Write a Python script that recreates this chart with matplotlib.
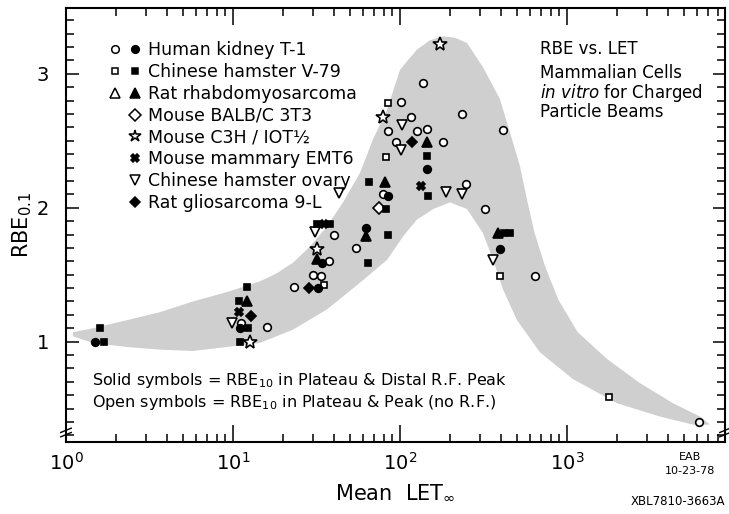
import numpy as np
import matplotlib.pyplot as plt
from matplotlib.lines import Line2D
from matplotlib.legend_handler import HandlerTuple
from matplotlib.ticker import MultipleLocator, LogLocator, NullFormatter

plt.rcParams['font.family'] = ['DejaVu Sans']
plt.rcParams['mathtext.fontset'] = 'dejavusans'

# Shaded envelope: upper edge (left to right) and lower edge (right to left)
band_upper_x = [1.10, 1.45, 2.32, 3.65, 5.76, 9.2, 14.5, 18.3, 22.9, 28.9, 36.5, 45.6, 57.6,
                68.9, 83.6, 100, 126, 151, 181, 213, 252, 314, 397, 456, 523, 576, 640,
                740, 890, 1160, 1737, 2735, 4313, 6256, 7183]
band_upper_y = [1.07, 1.10, 1.16, 1.22, 1.30, 1.37, 1.45, 1.51, 1.59, 1.71, 1.86, 2.04, 2.26,
                2.51, 2.73, 3.03, 3.18, 3.25, 3.28, 3.27, 3.23, 3.05, 2.81, 2.56, 2.31, 2.06, 1.81,
                1.56, 1.31, 1.07, 0.87, 0.69, 0.54, 0.44, 0.38]
band_lower_x = [5680, 3604, 1991, 1086, 689, 502, 414, 361, 314, 252, 199, 158, 126, 105,
                83.6, 57.6, 36.5, 22.9, 14.5, 9.2, 5.76, 3.65, 2.32, 1.45, 1.10]
band_lower_y = [0.38, 0.44, 0.54, 0.72, 0.92, 1.16, 1.39, 1.61, 1.81, 1.99, 2.04, 1.99, 1.91, 1.79,
                1.61, 1.44, 1.24, 1.09, 0.99, 0.96, 0.93, 0.94, 0.96, 0.99, 1.04]

# Human kidney T-1
kidney_open_x = [11.1, 16, 23.2, 30, 33.6, 37.6, 40, 54.5, 79, 137, 101, 116, 85, 126, 145,
                 235, 414, 95, 181, 248, 323, 643, 6170]
kidney_open_y = [1.14, 1.11, 1.41, 1.50, 1.49, 1.60, 1.80, 1.70, 2.10, 2.93, 2.79, 2.68, 2.57, 2.57, 2.59,
                 2.70, 2.58, 2.49, 2.49, 2.18, 1.99, 1.49, 0.40]
kidney_solid_x = [1.49, 11.0, 34, 32.2, 85, 145, 397, 63]
kidney_solid_y = [1.00, 1.10, 1.59, 1.40, 2.09, 2.29, 1.69, 1.85]

# Chinese hamster V-79
v79_open_x = [35, 85, 82, 397, 1783]
v79_open_y = [1.42, 2.78, 2.38, 1.49, 0.59]
v79_solid_x = [1.69, 1.6, 12.1, 10.9, 11.0, 12.3, 32, 38, 65, 83, 85, 64, 145, 147, 420, 456]
v79_solid_y = [1.00, 1.10, 1.41, 1.30, 1.00, 1.10, 1.88, 1.88, 2.19, 1.99, 1.80, 1.59, 2.39, 2.09, 1.81, 1.81]

# Rat rhabdomyosarcoma
rhabdo_solid_x = [12.1, 31.7, 81, 145, 63, 386]
rhabdo_solid_y = [1.30, 1.62, 2.19, 2.49, 1.79, 1.81]

# Mouse BALB/C 3T3
balb_open_x = [75]
balb_open_y = [2.00]

# Mouse C3H/10T1/2
c3h_open_x = [12.6, 32, 79, 174]
c3h_open_y = [1.00, 1.69, 2.68, 3.22]

# Mouse mammary EMT6
emt6_solid_x = [10.9, 35, 134]
emt6_solid_y = [1.22, 1.88, 2.16]

# Chinese hamster ovary
cho_open_x = [9.9, 43, 31, 103, 101, 189, 235, 361]
cho_open_y = [1.14, 2.11, 1.82, 2.62, 2.43, 2.12, 2.10, 1.61]

# Rat gliosarcoma 9-L
glio_solid_x = [12.8, 28.5, 118]
glio_solid_y = [1.19, 1.40, 2.49]

fig = plt.figure(figsize=(7.29, 5.14), dpi=100)
ax = fig.add_axes([0.0905, 0.140, 0.904, 0.844])

ax.fill(band_upper_x + band_lower_x, band_upper_y + band_lower_y,
        color='#cfcfcf', lw=0, zorder=1)

def pts(x, y, marker, filled, ms=5.5):
    fc = 'black' if filled else 'white'
    ax.plot(x, y, linestyle='none', marker=marker, ms=ms, mfc=fc, mec='black',
            mew=1.2, zorder=3)

pts(kidney_open_x, kidney_open_y, 'o', False)
pts(v79_open_x, v79_open_y, 's', False, 5)
pts(balb_open_x, balb_open_y, 'D', False, 6)
pts(c3h_open_x, c3h_open_y, '*', False, 10)
pts(cho_open_x, cho_open_y, 'v', False, 7)
pts(kidney_solid_x, kidney_solid_y, 'o', True)
pts(v79_solid_x, v79_solid_y, 's', True, 5)
pts(rhabdo_solid_x, rhabdo_solid_y, '^', True, 6.5)
pts(emt6_solid_x, emt6_solid_y, 'X', True, 6)
pts(glio_solid_x, glio_solid_y, 'D', True, 5)

ax.set_xscale('log')
ax.set_xlim(1, 8830)
ax.set_ylim(0.25, 3.49)
ax.xaxis.set_minor_locator(LogLocator(base=10, subs=np.arange(2, 10), numticks=20))
ax.xaxis.set_minor_formatter(NullFormatter())
ax.set_xticks([1, 10, 100, 1000])
ax.set_xticklabels(['$10^0$', '$10^1$', '$10^2$', '$10^3$'])
ax.yaxis.set_major_locator(MultipleLocator(1))
ax.yaxis.set_minor_locator(MultipleLocator(0.1))
ax.tick_params(which='both', direction='in', top=True, right=True, width=1.1)
ax.tick_params(which='major', length=12, labelsize=14, pad=7)
ax.tick_params(which='minor', length=6)
ax.tick_params(axis='y', which='major', length=9, pad=12)
for s in ax.spines.values():
    s.set_linewidth(1.5)

ax.set_xlabel(r'Mean  LET$_{\infty}$', fontsize=15, labelpad=6)
ax.set_ylabel(r'RBE$_{0.1}$', fontsize=15, labelpad=2)

# axis break marks
for xa in (0.0, 1.0):
    ax.plot([xa - 0.008, xa + 0.008], [0.022, 0.032], transform=ax.transAxes,
            color='black', lw=1, clip_on=False, zorder=5)
    ax.plot([xa - 0.008, xa + 0.008], [0.012, 0.022], transform=ax.transAxes,
            color='black', lw=1, clip_on=False, zorder=5)

# legend with open/solid pairs
blank = Line2D([], [], linestyle='none', marker='')
def h(marker, filled, ms=5.5):
    return Line2D([], [], linestyle='none', marker=marker, ms=ms,
                  mfc='black' if filled else 'white', mec='black', mew=1.1)

handles = [(h('o', False), h('o', True)),
           (h('s', False, 5), h('s', True, 5)),
           (h('^', False, 7), h('^', True, 7)),
           (blank, h('D', False, 6)),
           (blank, h('*', False, 9)),
           (blank, h('X', True, 6)),
           (blank, h('v', False, 7)),
           (blank, h('D', True, 5))]
labels = ['Human kidney T-1', 'Chinese hamster V-79', 'Rat rhabdomyosarcoma',
          'Mouse BALB/C 3T3', 'Mouse C3H / IOT½', 'Mouse mammary EMT6',
          'Chinese hamster ovary', 'Rat gliosarcoma 9-L']
ax.legend(handles, labels, handler_map={tuple: HandlerTuple(ndivide=None, pad=0.4)},
          loc='upper left', bbox_to_anchor=(0.05, 0.944), frameon=False, fontsize=12.5,
          handlelength=2.0, handletextpad=0.35, labelspacing=0.22, borderpad=0)

ax.text(0.719, 0.905, 'RBE vs. LET', transform=ax.transAxes, fontsize=12, va='center')
ax.text(0.719, 0.850, 'Mammalian Cells', transform=ax.transAxes, fontsize=12, va='center')
ax.text(0.719, 0.805, r'$\it{in\ vitro}$ for Charged', transform=ax.transAxes, fontsize=12, va='center')
ax.text(0.719, 0.760, 'Particle Beams', transform=ax.transAxes, fontsize=12, va='center')

ax.text(0.04, 0.142, r'Solid symbols = RBE$_{10}$ in Plateau & Distal R.F. Peak',
        transform=ax.transAxes, fontsize=11.5, va='center')
ax.text(0.04, 0.092, r'Open symbols = RBE$_{10}$ in Plateau & Peak (no R.F.)',
        transform=ax.transAxes, fontsize=11.5, va='center')

fig.text(0.947, 0.105, 'EAB', fontsize=8, ha='center')
fig.text(0.947, 0.078, '10-23-78', fontsize=8, ha='center')
fig.text(0.995, 0.018, 'XBL7810-3663A', fontsize=8.5, ha='right')

fig.savefig('out.png', dpi=100)
